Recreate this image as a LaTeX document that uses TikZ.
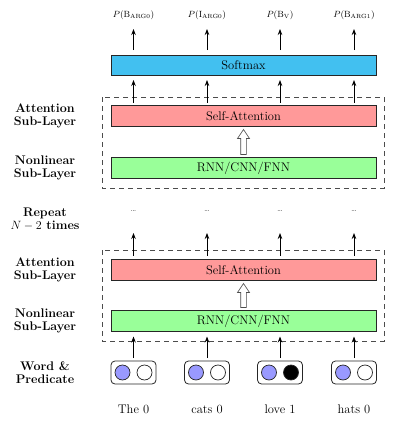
\documentclass[tikz,border=0pt]{standalone}
\usetikzlibrary{arrows.meta,calc}
\definecolor{softblue}{RGB}{66,192,240}
\definecolor{attred}{RGB}{255,153,153}
\definecolor{rnngreen}{RGB}{153,255,153}
\definecolor{inblue}{RGB}{153,153,255}
\begin{document}
\begin{tikzpicture}[x=1pt,y=-1pt,
  every node/.style={inner sep=0pt,outer sep=0pt},
  layerbox/.style={draw=black!85,line width=0.8pt,minimum width=265pt,minimum height=21pt,font=\fontsize{12.5}{14}\selectfont},
  dashbox/.style={draw=black!70,line width=1pt,dash pattern=on 5pt off 4pt},
  inbox/.style={draw=black!85,line width=0.8pt,rounded corners=4pt,minimum width=45pt,minimum height=23pt},
  unit/.style={draw=black!85,line width=0.7pt,circle,minimum size=15pt},
  sidelabel/.style={align=center,font=\fontsize{12.5}{13}\selectfont\bfseries},
  wordlabel/.style={font=\fontsize{12.5}{14}\selectfont},
  plabel/.style={font=\fontsize{9}{10}\selectfont},
  dotlabel/.style={font=\fontsize{8}{9}\selectfont},
  uparrow/.style={-{Stealth[length=6pt,width=4.5pt]},line width=0.8pt,black},
  hollow/.style={draw=black!70,line width=0.6pt,fill=white,line join=miter}
]
\useasboundingbox (0,0) rectangle (404,423);

% boxes
\node[layerbox,fill=softblue,minimum height=20pt] (soft) at (243.5,65) {Softmax};
\node[layerbox,fill=attred] (sa1) at (243.5,116) {Self-Attention};
\node[layerbox,fill=rnngreen] (rnn1) at (243.5,168) {RNN/CNN/FNN};
\node[layerbox,fill=attred] (sa2) at (243.5,270) {Self-Attention};
\node[layerbox,fill=rnngreen] (rnn2) at (243.5,321) {RNN/CNN/FNN};

% dashed groups
\draw[dashbox] (102,97) rectangle (384,188);
\draw[dashbox] (102,250) rectangle (384,341);

% side labels
\node[sidelabel] (l1) at (45,116) {Attention\\Sub-Layer};
\node[sidelabel] (l2) at (45,168) {Nonlinear\\Sub-Layer};
\node[sidelabel] (l3) at (45,219) {Repeat\\$N-2$ times};
\node[sidelabel] (l4) at (45,270) {Attention\\Sub-Layer};
\node[sidelabel] (l5) at (45,321) {Nonlinear\\Sub-Layer};
\node[sidelabel] (l6) at (45,373) {Word \&\\Predicate};

% columns
\foreach \i/\x/\p/\w/\last in {1/133.5/{P(\mathrm{B}_{\mathrm{ARG0}})}/The 0/white,
                               2/207/{P(\mathrm{I}_{\mathrm{ARG0}})}/cats 0/white,
                               3/280/{P(\mathrm{B}_{\mathrm{V}})}/love 1/black,
                               4/354/{P(\mathrm{B}_{\mathrm{ARG1}})}/hats 0/white}{
  \node[plabel] (p\i) at (\x,15) {$\p$};
  \node[dotlabel] (d\i) at (\x,211) {\dots};
  \node[inbox] (in\i) at (\x,372.5) {};
  \node[unit,fill=inblue] (ca\i) at (\x-11,372.5) {};
  \node[unit,fill=\last] (cb\i) at (\x+11,372.5) {};
  \node[wordlabel] (w\i) at (\x,409) {\w};
  \draw[uparrow,shorten <=5pt] (p\i |- soft.north) -- (\x,29);
  \draw[uparrow,shorten <=3pt,shorten >=5pt] (p\i |- sa1.north) -- (p\i |- soft.south);
  \draw[uparrow,shorten <=4pt] (p\i |- sa2.north) -- (\x,233);
  \draw[uparrow,shorten <=3pt,shorten >=5pt] (in\i.north) -- (in\i.north |- rnn2.south);
}

% hollow double arrows
\foreach \a/\b in {sa1/rnn1,sa2/rnn2}{
  \draw[hollow] ($(\a.south)+(0,3)$) -- ++(6,9) -- ++(-3.2,0)
    -- ($(\b.north)+(2.8,-3)$) -- ++(-5.6,0)
    -- ($(\a.south)+(-2.8,12)$) -- ++(-3.2,0) -- cycle;
}
\end{tikzpicture}
\end{document}
